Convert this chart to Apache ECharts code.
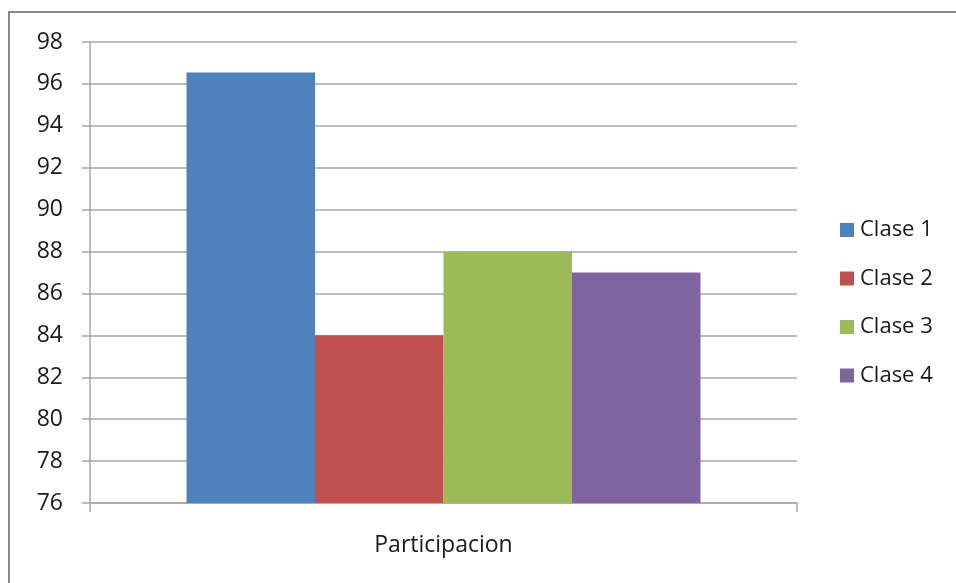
<!DOCTYPE html>
<html>
<head>
<meta charset="utf-8">
<script src="https://cdn.jsdelivr.net/npm/echarts@6/dist/echarts.min.js"></script>
<style>
  html, body { margin: 0; padding: 0; background: #ffffff; }
  #chart { width: 956px; height: 583px; }
</style>
</head>
<body>
<div id="chart"></div>
<script>
// Participation by class
const categories = ['Participacion'];
const seriesNames = ['Clase 1', 'Clase 2', 'Clase 3', 'Clase 4'];
const seriesValues = [[96.55], [84], [88], [87]];
const seriesColors = ['#4f81bd', '#c0504d', '#9bbb59', '#8064a2'];
const yTicks = { min: 76, max: 98, interval: 2 };

const FONT = '"Open Sans", "Noto Sans", sans-serif';
const chart = echarts.init(document.getElementById('chart'), null, { renderer: 'canvas' });

const series = seriesNames.map((name, i) => ({
  name: name,
  type: 'bar',
  data: seriesValues[i],
  barGap: '0%',
  barCategoryGap: '27.3%',
  itemStyle: { color: seriesColors[i] }
}));

chart.setOption({
  animation: false,
  backgroundColor: '#ffffff',
  graphic: [{
    type: 'rect',
    shape: { x: 9, y: 12, width: 1000, height: 700 },
    style: { fill: 'none', stroke: '#868686', lineWidth: 2 },
    silent: true,
    z: -1
  }],
  grid: { left: 90, right: 159, top: 42, bottom: 80, containLabel: false },
  legend: {
    orient: 'vertical',
    left: 835,
    top: 214,
    itemWidth: 14,
    itemHeight: 14,
    itemGap: 26.5,
    icon: 'rect',
    textStyle: { fontFamily: FONT, fontSize: 22, color: '#1a1a1a', padding: [0, 0, 0, 1] },
    data: seriesNames
  },
  xAxis: {
    type: 'category',
    data: categories,
    boundaryGap: true,
    axisLine: { show: true, lineStyle: { color: '#a6a6a6', width: 1.5 } },
    axisTick: { show: true, length: 9, inside: false, lineStyle: { color: '#a6a6a6', width: 1.5 } },
    axisLabel: { fontFamily: FONT, fontSize: 23, color: '#1a1a1a', margin: 31 },
    splitLine: { show: false }
  },
  yAxis: {
    type: 'value',
    min: yTicks.min,
    max: yTicks.max,
    interval: yTicks.interval,
    axisLine: { show: true, lineStyle: { color: '#a6a6a6', width: 1.5 } },
    axisTick: { show: true, length: 8, lineStyle: { color: '#a6a6a6', width: 1.5 } },
    axisLabel: { fontFamily: FONT, fontSize: 23, color: '#1a1a1a', margin: 27 },
    splitLine: { show: true, lineStyle: { color: '#a6a6a6', width: 1.5 } }
  },
  series: series
});
</script>
</body>
</html>
